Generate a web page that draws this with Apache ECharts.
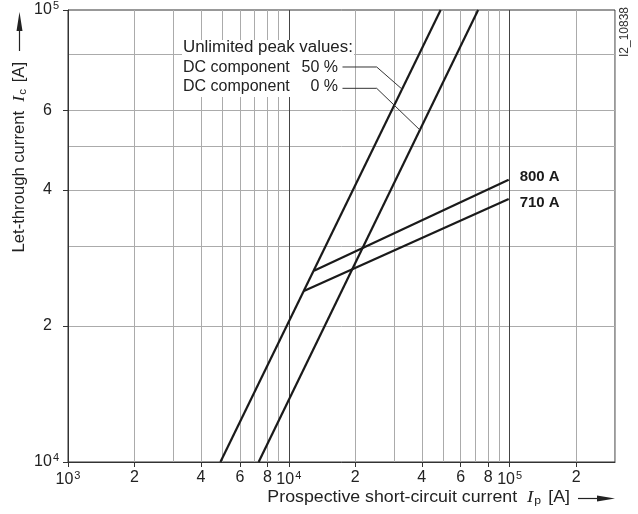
<!DOCTYPE html>
<html><head><meta charset="utf-8">
<script src="https://cdn.jsdelivr.net/npm/echarts@6/dist/echarts.min.js"></script>
<style>html,body{margin:0;padding:0;background:#fff}#c{width:638px;height:514px}</style>
</head><body><div id="c"></div>
<script>
// ---- data ----
const xLabelValues = [1000, 2000, 4000, 6000, 8000, 10000, 20000, 40000, 60000, 80000, 100000, 200000];
const xGridValues = [1000, 2000, 3000, 4000, 5000, 6000, 7000, 8000, 9000,
  10000, 20000, 30000, 40000, 50000, 60000, 70000, 80000, 90000, 100000, 200000, 300000];
const yLabelValues = [10000, 20000, 40000, 60000, 100000];
const yGridValues = [20000, 30000, 40000, 50000, 60000, 80000];
const dc50 = [[4900, 10000], [48700, 100000]];
const dc0 = [[7300, 10000], [72000, 100000]];
const fuse800 = [[13000, 26500], [99000, 42100]];
const fuse710 = [[11700, 23900], [99000, 38200]];
const leader50 = [[17500, 74800], [25000, 74800], [32700, 66700]];
const leader0 = [[17500, 67100], [25000, 67100], [39500, 54100]];
const seriesNames = ['DC component 50 %', 'DC component 0 %', '800 A', '710 A'];

// ---- chart ----
const FONT = '"Liberation Sans", Arial, Helvetica, sans-serif';
const SERIF = '"Liberation Serif", "DejaVu Serif", serif';
const chart = echarts.init(document.getElementById('c'), null, {renderer: 'canvas'});

function fmt(v, padRight) {
  const e = Math.floor(Math.log10(v) + 1e-9);
  const m = Math.round(v / Math.pow(10, e));
  if (m === 1) return '{b|10}{sup|' + e + '}';
  return padRight ? '{dp|' + m + '}' : '{d|' + m + '}';
}
const richBase = {
  b: {fontSize: 16, fontFamily: FONT, color: '#222'},
  sup: {fontSize: 11, fontFamily: FONT, color: '#222', verticalAlign: 'top', padding: [0, 0, 9, 1]},
  d: {fontSize: 16, fontFamily: FONT, color: '#222'},
  dp: {fontSize: 16, fontFamily: FONT, color: '#222', padding: [0, 7, 0, 0]}
};

const xGridColors = xGridValues.map(v => (v === 10000 || v === 100000) ? '#444' : '#ababab');
const yGridColors = yGridValues.map(() => '#ababab');

const lineStyle = {color: '#1a1a1a', width: 2.2};
const titleRich = {
  i: {fontFamily: SERIF, fontStyle: 'italic', fontSize: 17, fill: '#222'},
  s: {fontFamily: FONT, fontSize: 11, fill: '#222', verticalAlign: 'bottom', padding: [6, 2, 0, 1]}
};

chart.setOption({
  animation: false,
  backgroundColor: '#fff',
  grid: {left: 68, right: 23, top: 9, bottom: 52, show: true, borderColor: '#333', borderWidth: 1, backgroundColor: 'transparent'},
  xAxis: [
    {type: 'log', logBase: 10, min: 1000, max: 300000,
     axisLine: {show: true, lineStyle: {color: '#333', width: 1}},
     axisTick: {show: true, inside: false, length: 5, customValues: xLabelValues, lineStyle: {color: '#333'}},
     axisLabel: {customValues: xLabelValues, formatter: v => fmt(v, false), rich: richBase, margin: 8, color: '#222'},
     splitLine: {show: false}},
    {type: 'log', logBase: 10, min: 1000, max: 300000, position: 'bottom',
     axisLine: {show: false}, axisTick: {show: false, customValues: xGridValues}, axisLabel: {show: false},
     splitLine: {show: true, lineStyle: {color: xGridColors, width: 1}}}
  ],
  yAxis: [
    {type: 'log', logBase: 10, min: 10000, max: 100000, position: 'left',
     axisLine: {show: true, lineStyle: {color: '#333', width: 1}},
     axisTick: {show: true, inside: false, length: 5, customValues: yLabelValues, lineStyle: {color: '#333'}},
     axisLabel: {customValues: yLabelValues, formatter: v => fmt(v, true), rich: richBase, margin: 9, color: '#222'},
     splitLine: {show: false}},
    {type: 'log', logBase: 10, min: 10000, max: 100000, position: 'left',
     axisLine: {show: false}, axisTick: {show: false, customValues: yGridValues}, axisLabel: {show: false},
     splitLine: {show: true, lineStyle: {color: yGridColors, width: 1}}}
  ],
  series: [
    {name: seriesNames[0], type: 'line', data: dc50, symbol: 'none', lineStyle: lineStyle, z: 3},
    {name: seriesNames[1], type: 'line', data: dc0, symbol: 'none', lineStyle: lineStyle, z: 3},
    {name: seriesNames[2], type: 'line', data: fuse800, symbol: 'none', lineStyle: lineStyle, z: 3,
     endLabel: {show: true, formatter: '{a}', fontFamily: FONT, fontWeight: 'bold', fontSize: 15, color: '#1a1a1a', distance: 11, offset: [0, -3]}},
    {name: seriesNames[3], type: 'line', data: fuse710, symbol: 'none', lineStyle: lineStyle, z: 3,
     endLabel: {show: true, formatter: '{a}', fontFamily: FONT, fontWeight: 'bold', fontSize: 15, color: '#1a1a1a', distance: 11, offset: [0, 4]}},
    {name: 'leader50', type: 'line', data: leader50, symbol: 'none', lineStyle: {color: '#333', width: 1}, z: 4, silent: true},
    {name: 'leader0', type: 'line', data: leader0, symbol: 'none', lineStyle: {color: '#333', width: 1}, z: 4, silent: true}
  ],
  graphic: [
    {type: 'rect', shape: {x: 182, y: 40, width: 172, height: 57}, style: {fill: '#fff'}, z: 1},
    {type: 'text', x: 183, y: 48, scaleX: 1.055, z: 5, style: {text: 'Unlimited peak values:', font: '16px ' + FONT, fill: '#222', verticalAlign: 'middle', align: 'left'}},
    {type: 'text', x: 183, y: 68, z: 5, style: {text: 'DC component', font: '16px ' + FONT, fill: '#222', verticalAlign: 'middle', align: 'left'}},
    {type: 'text', x: 338, y: 68, z: 5, style: {text: '50 %', font: '16px ' + FONT, fill: '#222', verticalAlign: 'middle', align: 'right'}},
    {type: 'text', x: 183, y: 87, z: 5, style: {text: 'DC component', font: '16px ' + FONT, fill: '#222', verticalAlign: 'middle', align: 'left'}},
    {type: 'text', x: 338, y: 87, z: 5, style: {text: '0 %', font: '16px ' + FONT, fill: '#222', verticalAlign: 'middle', align: 'right'}},
    // x-axis title + arrow
    {type: 'text', x: 570, y: 498, scaleX: 1.11, z: 5, style: {
      text: 'Prospective short-circuit current  {i|I}{s|p} [A]', align: 'right', verticalAlign: 'middle',
      font: '16px ' + FONT, fill: '#222', rich: titleRich}},
    {type: 'line', z: 5, shape: {x1: 578, y1: 498.5, x2: 600, y2: 498.5}, style: {stroke: '#222', lineWidth: 1.2}},
    {type: 'polygon', z: 5, shape: {points: [[597, 495.5], [615, 498.5], [597, 501.5]]}, style: {fill: '#222'}},
    // y-axis title + arrow
    {type: 'text', x: 20, y: 62, rotation: Math.PI / 2, scaleX: 1.04, z: 5, style: {
      text: 'Let-through current  {i|I}{s|c} [A]', align: 'right', verticalAlign: 'middle',
      font: '16px ' + FONT, fill: '#222', rich: titleRich}},
    {type: 'line', z: 5, shape: {x1: 19.5, y1: 51, x2: 19.5, y2: 28}, style: {stroke: '#222', lineWidth: 1.2}},
    {type: 'polygon', z: 5, shape: {points: [[16.5, 31], [19.5, 12], [22.5, 31]]}, style: {fill: '#222'}},
    // figure id
    {type: 'text', x: 625, y: 32, rotation: Math.PI / 2, z: 5, style: {text: 'I2_10838', font: '12px ' + FONT, fill: '#333', align: 'center', verticalAlign: 'middle'}}
  ]
});
</script></body></html>
